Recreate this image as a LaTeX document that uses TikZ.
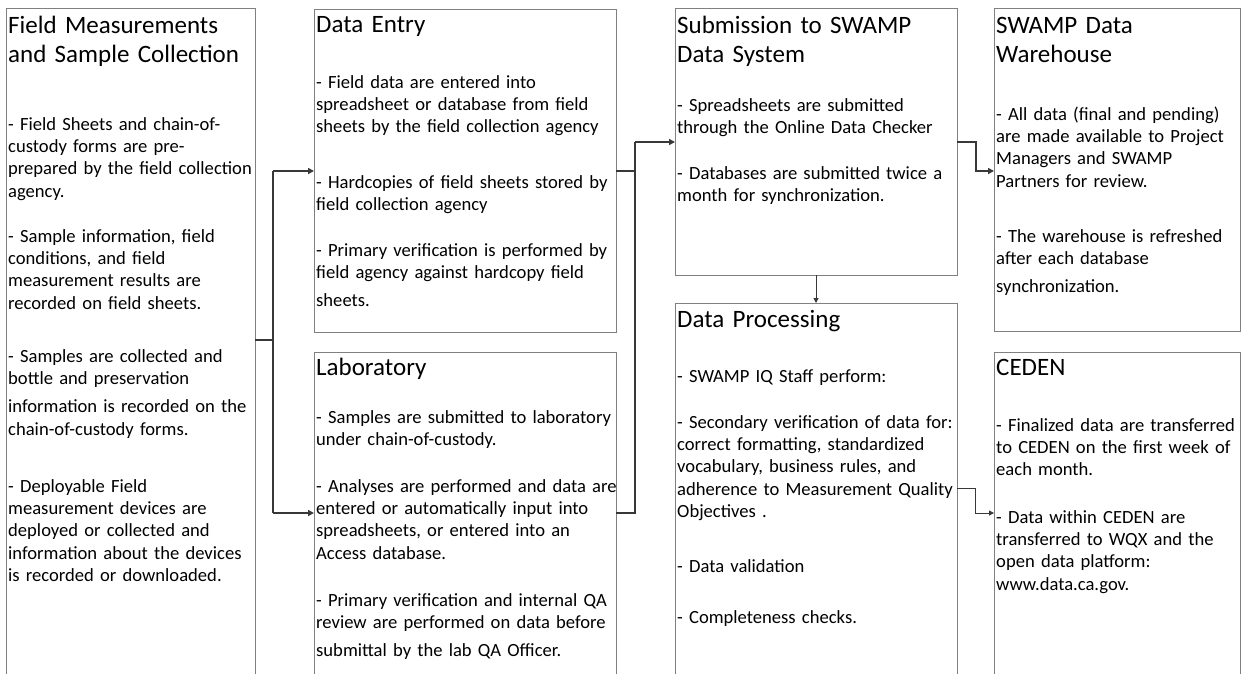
\documentclass[tikz,border=0pt]{standalone}
\usepackage{fontspec}
\setmainfont{Carlito}
\usetikzlibrary{arrows.meta}
\begin{document}
\begin{tikzpicture}[x=1pt,y=-1pt,
  box/.style={draw=black!50, line width=1pt, anchor=north west, inner sep=0pt, outer sep=0pt, rectangle},
  ttl/.style={anchor=base west, inner sep=0pt, text width=400pt, align=left, font={\fontsize{25}{29.5}\selectfont}},
  txt/.style={anchor=base west, inner sep=0pt, text width=400pt, align=left, font={\fontsize{18.6}{22.4}\selectfont}},
  line/.style={draw=black!78, line width=1.8pt},
  arr/.style={line, -{Triangle[length=6pt,width=6pt]}},
  thin/.style={draw=black!78, line width=1pt, -{Triangle[length=5pt,width=5pt]}}]
\useasboundingbox (0,0) rectangle (1241,673);
\clip (0,0) rectangle (1241,673);
\fill[white] (0,0) rectangle (1241,673);
% boxes
\node[box, minimum width=249pt, minimum height=700pt] (b1) at (6,8) {};
\node[box, minimum width=302pt, minimum height=323pt] (b2) at (314,9) {};
\node[box, minimum width=302pt, minimum height=400pt] (b3) at (314,352) {};
\node[box, minimum width=282pt, minimum height=267pt] (b4) at (675,8) {};
\node[box, minimum width=282pt, minimum height=400pt] (b5) at (675,303) {};
\node[box, minimum width=246pt, minimum height=323pt] (b6) at (994,8) {};
\node[box, minimum width=246pt, minimum height=400pt] (b7) at (994,352) {};
% box 1 text
\node[ttl] (b1t) at (8,33) {Field Measurements\\and Sample Collection};
\node[txt] (b1p1) at (8,130) {- Field Sheets and chain-of-\\custody forms are pre-\\prepared by the field collection\\agency.};
\node[txt] (b1p2) at (8,242) {- Sample information, field\\conditions, and field\\measurement results are\\recorded on field sheets.};
\node[txt] (b1p3) at (8,362) {- Samples are collected and\\bottle and preservation\\[6pt]information is recorded on the\\chain-of-custody forms.};
\node[txt] (b1p4) at (8,492) {- Deployable Field\\measurement devices are\\deployed or collected and\\information about the devices\\is recorded or downloaded.};
% box 2 text
\node[ttl] (b2t) at (316,32) {Data Entry};
\node[txt] (b2p1) at (316,88) {- Field data are entered into\\spreadsheet or database from field\\sheets by the field collection agency};
\node[txt] (b2p2) at (316,188) {- Hardcopies of field sheets stored by\\field collection agency};
\node[txt] (b2p3) at (316,256) {- Primary verification is performed by\\field agency against hardcopy field\\[6pt]sheets.};
% box 3 text
\node[ttl] (b3t) at (316,375) {Laboratory};
\node[txt] (b3p1) at (316,423) {- Samples are submitted to laboratory\\under chain-of-custody.};
\node[txt] (b3p2) at (316,492) {- Analyses are performed and data are\\entered or automatically input into\\spreadsheets, or entered into an\\Access database.};
\node[txt] (b3p3) at (316,606) {- Primary verification and internal QA\\review are performed on data before\\[6pt]submittal by the lab QA Officer.};
% box 4 text
\node[ttl] (b4t) at (677,33) {Submission to SWAMP\\Data System};
\node[txt] (b4p1) at (677,111) {- Spreadsheets are submitted\\through the Online Data Checker};
\node[txt] (b4p2) at (677,179) {- Databases are submitted twice a\\month for synchronization.};
% box 5 text
\node[ttl] (b5t) at (677,327) {Data Processing};
\node[txt] (b5p1) at (677,382) {- SWAMP IQ Staff perform:};
\node[txt] (b5p2) at (677,428) {- Secondary verification of data for:\\correct formatting, standardized\\vocabulary, business rules, and\\adherence to Measurement Quality\\Objectives .};
\node[txt] (b5p3) at (677,572) {- Data validation};
\node[txt] (b5p4) at (677,623) {- Completeness checks.};
% box 6 text
\node[ttl] (b6t) at (996,33) {SWAMP Data\\Warehouse};
\node[txt] (b6p1) at (996,120) {- All data (final and pending)\\are made available to Project\\Managers and SWAMP\\Partners for review.};
\node[txt] (b6p2) at (996,242) {- The warehouse is refreshed\\after each database\\[6pt]synchronization.};
% box 7 text
\node[ttl] (b7t) at (996,375) {CEDEN};
\node[txt] (b7p1) at (996,431) {- Finalized data are transferred\\to CEDEN on the first week of\\each month.};
\node[txt] (b7p2) at (996,523) {- Data within CEDEN are\\transferred to WQX and the\\open data platform:\\www.data.ca.gov.};
% connectors
\coordinate (j1) at (273,340);
\coordinate (t1a) at (273,171);
\coordinate (t1b) at (273,513);
\draw[line] (b1.east |- j1) -- (j1);
\draw[line] (t1a) -- (t1b);
\draw[arr] (t1a) -- (b2.west |- t1a);
\draw[arr] (t1b) -- (b3.west |- t1b);
\coordinate (t2a) at (635,142);
\coordinate (t2m) at (635,171);
\coordinate (t2b) at (635,513);
\draw[line] (b2.east |- t2m) -- (t2m);
\draw[line] (b3.east |- t2b) -- (t2b) -- (t2a);
\draw[arr] (t2a) -- (b4.west |- t2a);
\coordinate (k1) at (976,142);
\coordinate (k2) at (976,171);
\draw[arr] (b4.east |- k1) -- (k1) -- (k2) -- (b6.west |- k2);
\draw[thin] (b4.south) -- (b5.north);
\coordinate (m1) at (975,488);
\coordinate (m2) at (975,513);
\draw[thin] (b5.east |- m1) -- (m1) -- (m2) -- (b7.west |- m2);
\end{tikzpicture}
\end{document}
